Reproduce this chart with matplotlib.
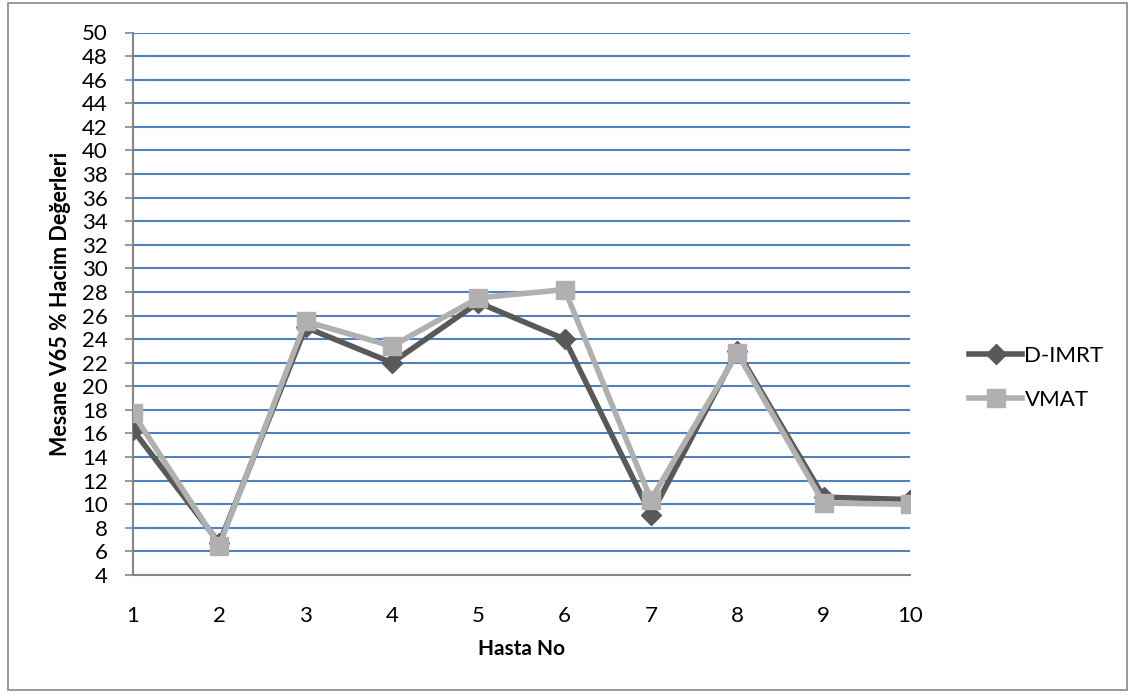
import matplotlib.pyplot as plt
from matplotlib.patches import Rectangle

hasta = [1, 2, 3, 4, 5, 6, 7, 8, 9, 10]
d_imrt = [16.3, 6.7, 25.0, 22.0, 27.1, 24.0, 9.1, 23.0, 10.6, 10.4]
vmat = [17.7, 6.5, 25.5, 23.4, 27.5, 28.2, 10.4, 22.8, 10.1, 10.0]
y_ticks = list(range(4, 51, 2))

plt.rcParams['font.family'] = ['Lato', 'DejaVu Sans']

fig = plt.figure(figsize=(11.35, 6.98), dpi=100)
ax = fig.add_axes([133 / 1135, 123 / 698, 777 / 1135, 542.5 / 698])

# outer chart frame
fig.patches.append(Rectangle((8 / 1135, 8 / 698), 1119 / 1135, 687 / 698,
                             transform=fig.transFigure, fill=False,
                             edgecolor='#868686', linewidth=1.2))

ax.plot(hasta, d_imrt, color='#595959', linewidth=4, marker='D',
        markersize=10, label='D-IMRT', zorder=3)
ax.plot(hasta, vmat, color='#B0B0B0', linewidth=4, marker='s',
        markersize=13, label='VMAT', zorder=4)

ax.set_xlim(1, 10)
ax.set_ylim(4, 50)
ax.set_xticks(hasta)
ax.set_yticks(y_ticks)
ax.tick_params(axis='x', length=0, pad=22, labelsize=16)
ax.tick_params(axis='y', length=6, width=1.2, color='#868686',
               labelsize=16, pad=12)
ax.yaxis.grid(True, color='#4F81BD', linewidth=1.5)
ax.set_axisbelow(True)

for side in ['top', 'right']:
    ax.spines[side].set_visible(False)
for side in ['left', 'bottom']:
    ax.spines[side].set_color('#868686')
    ax.spines[side].set_linewidth(1.5)

ax.set_xlabel('Hasta No', fontsize=15, fontweight='bold', labelpad=10)
ax.set_ylabel('Mesane V65 % Hacim Değerleri', fontsize=15.5,
              fontweight='bold', labelpad=8)

fig.legend(loc='center left', bbox_to_anchor=(960 / 1135, 1 - 378 / 698),
           frameon=False, fontsize=16, handlelength=2.4, labelspacing=1.1,
           handletextpad=0.1, borderaxespad=0)

fig.savefig('out.png', dpi=100)
